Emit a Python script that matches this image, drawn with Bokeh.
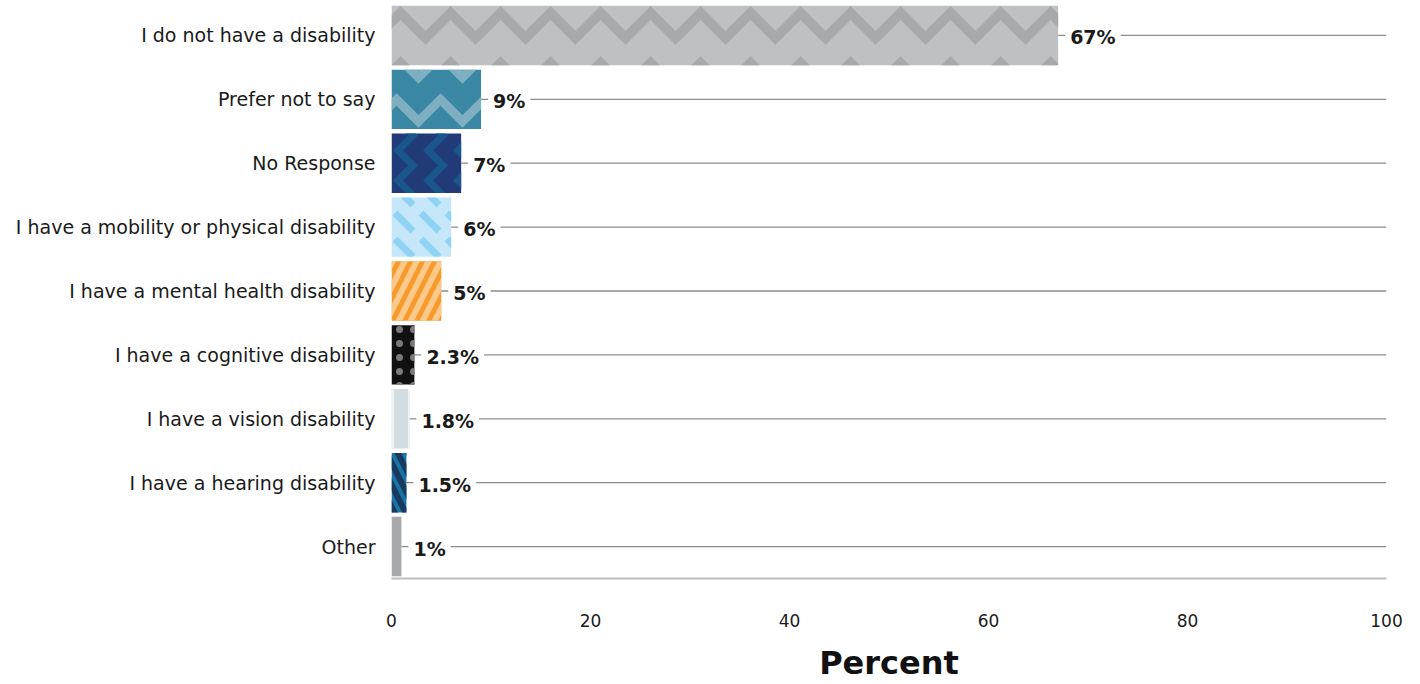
from bokeh.plotting import figure
from bokeh.models import ColumnDataSource, LabelSet, FactorRange
from bokeh.core.properties import value
from bokeh.embed import file_html
from bokeh.resources import INLINE

categories = ["I do not have a disability", "Prefer not to say", "No Response",
              "I have a mobility or physical disability", "I have a mental health disability",
              "I have a cognitive disability", "I have a vision disability",
              "I have a hearing disability", "Other"]
values = [67, 9, 7, 6, 5, 2.3, 1.8, 1.5, 1]
value_labels = ["67%", "9%", "7%", "6%", "5%", "2.3%", "1.8%", "1.5%", "1%"]

fill_colors = ["#bfc0c2", "#3a87a4", "#213a78", "#c6e7f9", "#f7992b", "#111111", "#d3dce1", "#1874a6", "#a8a9ac"]
hatch_colors = ["#a8a9ac", "#7eaec1", "#18568c", "#8fd3f4", "#fbc98a", "#7a7a7a", "#eef2f4", "#173a5e", "#a8a9ac"]
hatch_patterns = ["horizontal_wave", "horizontal_wave", "vertical_wave", "left_diagonal_dash",
                  "right_diagonal_line", "dot", "vertical_line", "left_diagonal_line", " "]
hatch_scales = [50, 44, 30, 26, 24, 14, 20, 22, 20]
hatch_weights = [10, 9, 7, 7, 6, 4, 6, 6, 1]

FONT = "DejaVu Sans"

src = ColumnDataSource(dict(cat=categories, val=values, lab=value_labels,
                            fc=fill_colors, hc=hatch_colors, hp=hatch_patterns,
                            hs=hatch_scales, hw=hatch_weights,
                            end=[100] * len(values)))

p = figure(width=1420, height=684, output_backend="svg", toolbar_location=None,
           y_range=FactorRange(factors=list(reversed(categories)), range_padding=0),
           x_range=(0, 100), frame_width=995, frame_height=575,
           min_border_left=391, min_border_top=3, min_border_right=34, min_border_bottom=106)
p.outline_line_color = None
p.xgrid.grid_line_color = None
p.ygrid.grid_line_color = None

p.segment(x0="val", y0="cat", x1="end", y1="cat", source=src, line_color="#8c8c8c", line_width=1.3)

p.hbar(y="cat", left=0, right="val", height=0.93, source=src, fill_color="fc", line_color=None,
       hatch_pattern="hp", hatch_color="hc", hatch_scale="hs", hatch_weight="hw")

labels = LabelSet(x="val", y="cat", text="lab", source=src, x_offset=12, y_offset=-2,
                  text_baseline="middle", text_font=value(FONT), text_font_style="bold",
                  text_font_size="19px", text_color="#1a1a1a",
                  background_fill_color="white", border_line_color="white", border_line_width=10)
p.add_layout(labels)

p.xaxis.ticker = [0, 20, 40, 60, 80, 100]
p.xaxis.axis_line_color = "#bdbdbd"
p.xaxis.axis_line_width = 2
p.xaxis.major_tick_line_color = None
p.xaxis.minor_tick_line_color = None
p.xaxis.major_label_text_font = FONT
p.xaxis.major_label_text_font_size = "17px"
p.xaxis.major_label_text_color = "#1a1a1a"
p.xaxis.major_label_standoff = 29
p.xaxis.axis_label = "Percent"
p.xaxis.axis_label_text_font = FONT
p.xaxis.axis_label_text_font_style = "bold"
p.xaxis.axis_label_text_font_size = "32px"
p.xaxis.axis_label_text_color = "#111111"
p.xaxis.axis_label_standoff = 14

p.yaxis.axis_line_color = None
p.yaxis.major_tick_line_color = None
p.yaxis.minor_tick_line_color = None
p.yaxis.major_label_text_font = FONT
p.yaxis.major_label_text_font_size = "19px"
p.yaxis.major_label_text_color = "#1a1a1a"
p.yaxis.major_label_standoff = 10

open("out.html", "w").write(file_html(p, INLINE))
